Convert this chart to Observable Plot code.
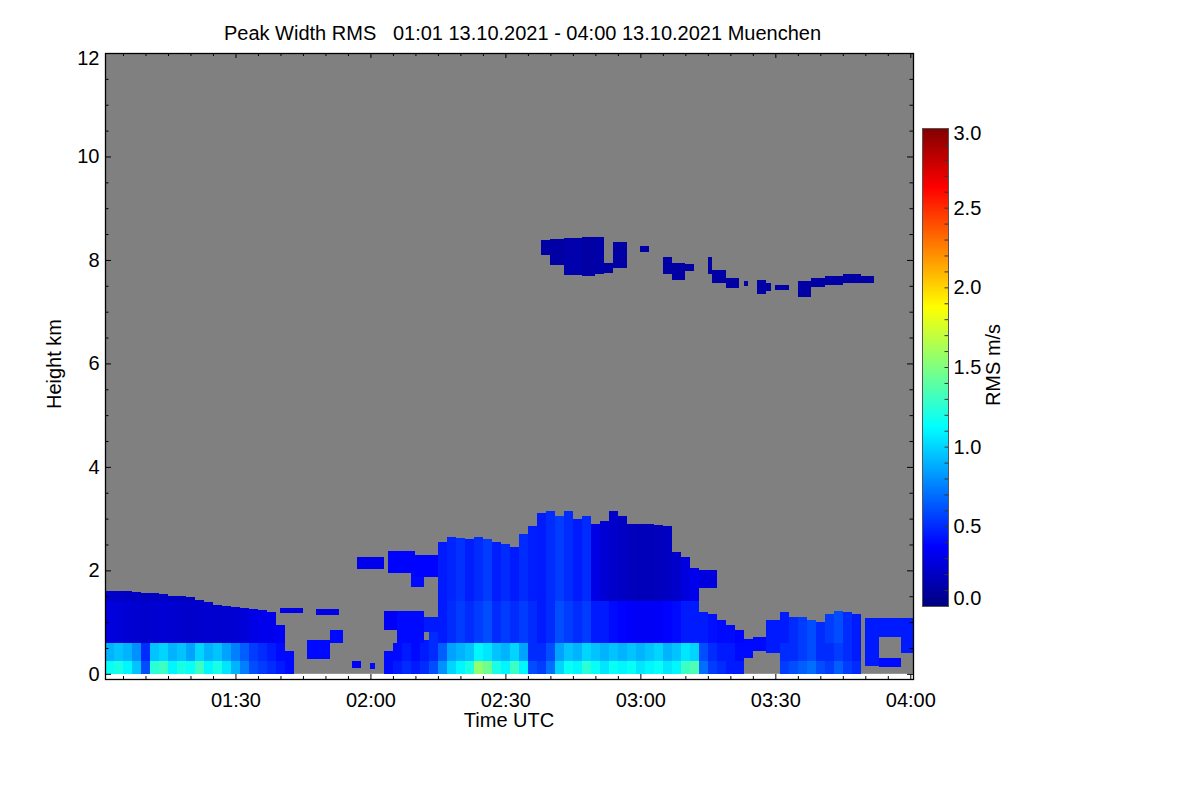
<!DOCTYPE html>
<html>
<head>
<meta charset="utf-8">
<script src="https://cdn.jsdelivr.net/npm/d3@7"></script>
<script src="https://cdn.jsdelivr.net/npm/@observablehq/plot@0.6"></script>
<style>
html, body { margin: 0; padding: 0; background: #fff; }
#wrap { position: relative; width: 1200px; height: 800px; font-family: "Liberation Sans", Arial, Helvetica, sans-serif; }
#wrap svg { position: absolute; top: 0; }
</style>
</head>
<body>
<div id="wrap"></div>
<script>
// ---------------- DATA ----------------
const titleText = "Peak Width RMS   01:01 13.10.2021 - 04:00 13.10.2021 Muenchen";
const timeDomain = ["01:01:00", "04:00:36"];
const rangeKm = [0, 12];
const xTickLabels = ["01:30", "02:00", "02:30", "03:00", "03:30", "04:00"];
const yTickLabels = [0, 2, 4, 6, 8, 10, 12];
const colorTickLabels = [0, 0.5, 1, 1.5, 2, 2.5, 3];

// 2-minute columns of the ground-based echo
const binTimes = [
 "01:01","01:03","01:05","01:07","01:09","01:11","01:13","01:15","01:17","01:19",
 "01:21","01:23","01:25","01:27","01:29","01:31","01:33","01:35","01:37","01:39",
 "01:41","01:43","01:45","01:47","01:49","01:51","01:53","01:55","01:57","01:59",
 "02:01","02:03","02:05","02:07","02:09","02:11","02:13","02:15","02:17","02:19",
 "02:21","02:23","02:25","02:27","02:29","02:31","02:33","02:35","02:37","02:39",
 "02:41","02:43","02:45","02:47","02:49","02:51","02:53","02:55","02:57","02:59",
 "03:01","03:03","03:05","03:07","03:09","03:11","03:13","03:15","03:17","03:19",
 "03:21","03:23","03:25","03:27","03:29","03:31","03:33","03:35","03:37","03:39",
 "03:41","03:43","03:45","03:47","03:49","03:51","03:53","03:55","03:57","03:59"];
// top of the echo column (km)
const echoTop = [
 1.60,1.60,1.60,1.58,1.57,1.57,1.55,1.50,1.50,1.48,
 1.42,1.38,1.33,1.32,1.30,1.28,1.25,1.24,1.20,0.95,
 0.45,0,0,0,0,0,0,0,0,0,
 0,0.45,0.60,0.65,0.60,0.65,0.80,2.55,2.65,2.62,
 2.60,2.65,2.60,2.55,2.50,2.45,2.70,2.85,3.10,3.15,
 3.05,3.15,3.00,3.05,2.90,2.95,3.15,3.05,2.90,2.90,
 2.90,2.88,2.85,2.35,2.25,2.05,1.20,1.15,1.05,0.95,
 0.85,0,0,0,0,1.20,1.10,1.10,1.05,1.00,
 1.15,1.22,1.20,1.15,0,0,0,0,0,0];
// RMS (m/s) in layers 0-0.25 km, 0.25-0.6 km, 0.6-1.4 km, above 1.4 km
const valNear = [
 1.15,1.20,1.10,0.95,0.60,1.25,1.30,1.10,1.20,1.15,
 1.30,1.10,1.20,1.05,0.90,0.75,0.60,0.55,0.50,0.45,
 0.40,0,0,0,0,0,0,0,0,0,
 0,0.40,0.45,0.50,0.45,0.50,0.60,0.80,1.00,1.10,
 1.20,1.55,1.45,1.20,1.10,1.30,1.10,0.60,0.55,0.70,
 1.00,1.15,1.10,1.25,1.15,1.05,1.15,1.10,1.15,1.05,
 1.10,1.15,1.05,1.10,1.30,1.35,0.70,0.55,0.50,0.45,
 0.45,0,0,0,0,0.55,0.60,0.65,0.70,0.60,
 0.55,0.65,0.55,0.50,0,0,0,0,0,0];
const valLow = [
 0.90,0.95,0.90,0.80,0.50,0.95,1.00,0.90,0.95,0.85,
 1.00,0.90,0.95,0.85,0.75,0.65,0.55,0.50,0.45,0.40,
 0.40,0,0,0,0,0,0,0,0,0,
 0,0.40,0.40,0.45,0.40,0.45,0.50,0.65,0.85,0.90,
 0.95,1.10,1.05,0.95,0.90,1.00,0.85,0.50,0.50,0.60,
 0.85,0.95,0.90,1.00,0.95,0.90,0.95,0.90,0.95,0.90,
 0.95,1.00,0.90,0.95,1.05,1.00,0.60,0.50,0.45,0.45,
 0.40,0,0,0,0,0.50,0.50,0.55,0.60,0.50,
 0.50,0.55,0.50,0.45,0,0,0,0,0,0];
const valMid = [
 0.28,0.26,0.25,0.24,0.23,0.24,0.25,0.24,0.23,0.22,
 0.23,0.24,0.23,0.24,0.25,0.26,0.30,0.32,0.32,0.35,
 0.38,0,0,0,0,0,0,0,0,0,
 0,0.40,0.42,0.45,0.42,0.45,0.50,0.45,0.50,0.55,
 0.50,0.55,0.60,0.50,0.55,0.50,0.55,0.50,0.45,0.50,
 0.60,0.55,0.50,0.55,0.45,0.45,0.40,0.38,0.36,0.35,
 0.35,0.36,0.38,0.40,0.45,0.45,0.45,0.42,0.40,0.40,
 0.38,0,0,0,0,0.45,0.50,0.55,0.60,0.50,
 0.55,0.60,0.50,0.45,0,0,0,0,0,0];
const valHigh = [
 0.22,0.21,0.20,0.20,0.19,0.20,0.21,0.20,0.20,0.19,
 0.20,0.20,0.20,0.20,0.20,0.20,0.20,0.20,0.20,0,
 0,0,0,0,0,0,0,0,0,0,
 0,0,0,0,0,0,0,0.45,0.48,0.52,
 0.46,0.50,0.55,0.46,0.50,0.45,0.50,0.46,0.45,0.50,
 0.55,0.50,0.45,0.50,0.30,0.25,0.22,0.20,0.18,0.17,
 0.17,0.18,0.20,0.22,0.28,0.32,0,0,0,0,
 0,0,0,0,0,0,0,0,0,0,
 0,0,0,0,0,0,0,0,0,0];
const layerBounds = [0, 0.25, 0.6, 1.4, 99];

// detached echo patches
const patchFrom = ["01:40","01:48","01:46","01:51","01:56","02:00","01:57","02:04","02:09","02:10","02:03","02:06","02:12",
 "03:13","03:25","03:28","03:50","03:50","03:53","03:58","03:23",
 "02:38","02:40","02:43","02:47","02:50","02:52","02:54","03:00","03:05","03:07","03:10","03:15","03:16","03:19",
 "03:23","03:26","03:28","03:30","03:35","03:38","03:41","03:45","03:49"];
const patchTo = ["01:45","01:53","01:51","01:54","01:58","02:01","02:03","02:10","02:12","02:15","02:06","02:12","02:15",
 "03:17","03:28","03:31","04:01","03:53","03:58","04:01","03:25",
 "02:40","02:43","02:47","02:50","02:52","02:54","02:57","03:02","03:07","03:10","03:12","03:16","03:19","03:22",
 "03:24","03:28","03:29","03:33","03:38","03:41","03:45","03:49","03:52"];
const patchBase = [1.17,1.14,0.28,0.60,0.12,0.10,2.02,1.95,1.68,1.88,0.85,0.60,0.80,
 1.66,0.45,0.40,0.72,0.15,0.13,0.40,0.30,
 8.10,7.90,7.70,7.68,7.72,7.75,7.85,8.15,7.72,7.62,7.78,7.72,7.55,7.45,
 7.50,7.35,7.40,7.42,7.28,7.48,7.52,7.55,7.55];
const patchTop = [1.27,1.25,0.65,0.85,0.25,0.20,2.25,2.38,1.98,2.30,1.22,1.22,1.10,
 2.00,0.72,1.05,1.08,0.72,0.30,0.72,0.68,
 8.38,8.40,8.42,8.45,8.45,7.95,8.35,8.27,8.05,7.95,7.92,8.05,7.80,7.65,
 7.60,7.62,7.55,7.52,7.60,7.65,7.68,7.73,7.68];
const patchVal = [0.30,0.30,0.40,0.40,0.35,0.40,0.32,0.38,0.40,0.38,0.35,0.40,0.45,
 0.28,0.40,0.45,0.45,0.45,0.40,0.45,0.40,
 0.11,0.11,0.13,0.11,0.12,0.11,0.11,0.11,0.11,0.11,0.11,0.11,0.11,0.11,
 0.11,0.11,0.11,0.11,0.11,0.11,0.11,0.11,0.11];

// jet colour table
const jetStops = [0, 0.375, 1.125, 1.875, 2.625, 3];
const jetColors = ["#000080", "#0000ff", "#00ffff", "#ffff00", "#ff0000", "#800000"];

// ---------------- BUILD ----------------
const toDate = s => new Date(`2021-10-13T${s.length === 5 ? s + ":00" : s}Z`);
const t0 = toDate(timeDomain[0]), t1 = toDate(timeDomain[1]);
const layerVals = [valNear, valLow, valMid, valHigh];

const cells = [];
binTimes.forEach((t, i) => {
  const top = echoTop[i];
  if (!top) return;
  const a = toDate(t), b = d3.utcMinute.offset(a, 2);
  for (let k = 0; k < 4; k++) {
    const lo = layerBounds[k], hi = Math.min(layerBounds[k + 1], top);
    if (top <= lo) break;
    const v = layerVals[k][i] || valMid[i] || valLow[i];
    cells.push({t0: a, t1: b, h0: lo, h1: hi, v});
  }
});
const patches = patchFrom.map((f, i) => ({
  t0: toDate(f), t1: toDate(patchTo[i]), h0: patchBase[i], h1: patchTop[i], v: patchVal[i]
}));

const W = 1200, H = 800, mL = 105, mR = 287, mT = 53, mB = 121;
const pw = W - mL - mR, ph = H - mT - mB;
const font = "Liberation Sans, Arial, Helvetica, sans-serif";
const jet = {type: "linear", domain: jetStops, range: jetColors, interpolate: "rgb", clamp: true};

const xMajor = xTickLabels.map(toDate);
const xMinor = d3.utcMinute.every(5).range(toDate("01:05"), t1).filter(d => d.getUTCMinutes() % 30 !== 0);
const yMinor = d3.range(0.5, 12, 0.5).filter(d => d % 2 !== 0);

const main = Plot.plot({
  width: W, height: H,
  marginLeft: mL, marginRight: mR, marginTop: mT, marginBottom: mB,
  style: {fontFamily: font, background: "transparent", overflow: "visible"},
  x: {type: "utc", domain: [t0, t1], axis: null, label: null},
  y: {domain: [-0.1, 12], axis: null, label: null},
  color: jet,
  marks: [
    Plot.rect([rangeKm], {x1: () => t0, x2: () => t1, y1: d => d[0], y2: d => d[1], fill: "#808080"}),
    Plot.rect(cells, {x1: "t0", x2: "t1", y1: "h0", y2: "h1", fill: "v", shapeRendering: "crispEdges", clip: true}),
    Plot.rect(patches, {x1: "t0", x2: "t1", y1: "h0", y2: "h1", fill: "v", shapeRendering: "crispEdges", clip: true}),
    // inward ticks
    Plot.tickY(yTickLabels, {y: d => d, insetRight: pw - 6, stroke: "#000"}),
    Plot.tickY(yTickLabels, {y: d => d, insetLeft: pw - 6, stroke: "#000"}),
    Plot.tickY(yMinor, {y: d => d, insetRight: pw - 3.5, stroke: "#000"}),
    Plot.tickY(yMinor, {y: d => d, insetLeft: pw - 3.5, stroke: "#000"}),
    Plot.tickX(xMajor, {x: d => d, insetTop: ph - 5, stroke: "#000"}),
    Plot.tickX(xMajor, {x: d => d, insetBottom: ph - 5, stroke: "#000"}),
    Plot.tickX(xMinor, {x: d => d, insetTop: ph - 3, stroke: "#000"}),
    Plot.tickX(xMinor, {x: d => d, insetBottom: ph - 3, stroke: "#000"}),
    // tick labels
    Plot.text(yTickLabels.filter(d => d !== 12), {y: d => d, text: d => String(d), frameAnchor: "left", textAnchor: "end", dx: -6, fontSize: 20, fill: "#000"}),
    Plot.text([12], {y: d => d, text: d => String(d), frameAnchor: "left", textAnchor: "end", dx: -6, dy: 5, fontSize: 20, fill: "#000"}),
    Plot.text(xTickLabels, {x: d => toDate(d), text: d => d, frameAnchor: "bottom", lineAnchor: "top", dy: 13, fontSize: 20, fill: "#000"}),
    Plot.frame({stroke: "#000", strokeWidth: 1.3})
  ]
});
main.style.left = "0px";
document.getElementById("wrap").appendChild(main);

// colour bar
const cbMinor = d3.range(1, 30).map(d => d / 10);
const cb = Plot.plot({
  width: 120, height: H,
  marginLeft: 22, marginRight: 72, marginTop: 128, marginBottom: 194,
  style: {fontFamily: font, background: "transparent", overflow: "visible"},
  x: {domain: [0, 1], axis: null},
  y: {domain: [0, 3], axis: null, label: null},
  color: jet,
  marks: [
    Plot.raster({fill: (x, y) => y, x1: 0, x2: 1, y1: 0, y2: 3, width: 2, height: 478, imageRendering: "pixelated"}),
    Plot.tickY(cbMinor, {y: d => d, insetLeft: 26 - 3.5, stroke: "#333"}),
    Plot.text(colorTickLabels.filter(d => d > 0 && d < 3), {y: d => d, text: d => d.toFixed(1), frameAnchor: "right", textAnchor: "start", dx: 5, fontSize: 20, fill: "#000"}),
    Plot.text([0], {y: d => d, text: d => d.toFixed(1), frameAnchor: "right", textAnchor: "start", dx: 5, dy: -8, fontSize: 20, fill: "#000"}),
    Plot.text([3], {y: d => d, text: d => d.toFixed(1), frameAnchor: "right", textAnchor: "start", dx: 5, dy: 5, fontSize: 20, fill: "#000"}),
    Plot.frame({stroke: "#555"})
  ]
});
cb.style.left = "900px";
document.getElementById("wrap").appendChild(cb);

// titles
const ov = d3.select("#wrap").append("svg")
  .attr("width", W).attr("height", H).style("left", "0px").style("pointer-events", "none")
  .style("font-family", font).style("font-size", "20px");
ov.append("text").attr("x", 522.5).attr("y", 40).attr("text-anchor", "middle").style("white-space", "pre").attr("xml:space", "preserve").text(titleText);
ov.append("text").attr("transform", "translate(61,364) rotate(-90)").attr("text-anchor", "middle").text("Height km");
ov.append("text").attr("x", 509).attr("y", 727).attr("text-anchor", "middle").text("Time UTC");
ov.append("text").attr("transform", "translate(1000,365) rotate(-90)").attr("text-anchor", "middle").text("RMS m/s");
</script>
</body>
</html>
